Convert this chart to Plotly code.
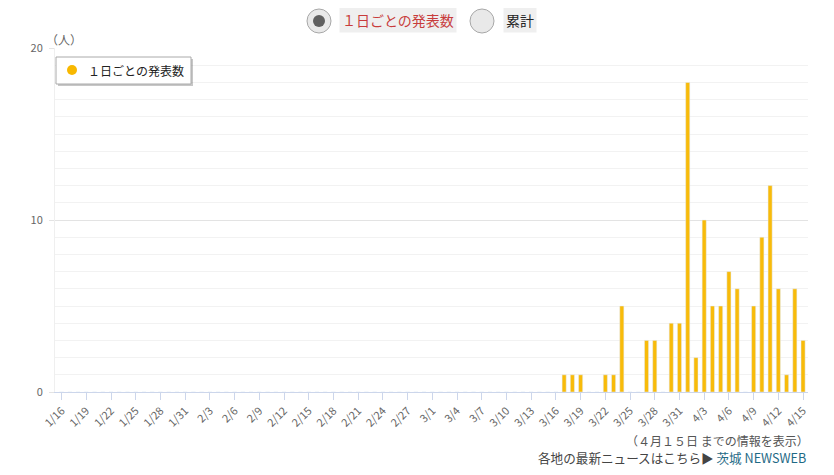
import datetime as dt
import plotly.graph_objects as go

# ---- data ----
start = dt.date(2020, 1, 16)
n_days = 91
dates = [start + dt.timedelta(days=i) for i in range(n_days)]
categories = [f"{d.month}/{d.day}" for d in dates]

case_dates = ["3/17", "3/18", "3/19", "3/22", "3/23", "3/24", "3/27", "3/28",
              "3/30", "3/31", "4/1", "4/2", "4/3", "4/4", "4/5", "4/6", "4/7",
              "4/9", "4/10", "4/11", "4/12", "4/13", "4/14", "4/15"]
case_values = [1, 1, 1, 1, 1, 5, 3, 3,
               4, 4, 18, 2, 10, 5, 5, 7, 6,
               5, 9, 12, 6, 1, 6, 3]
lookup = dict(zip(case_dates, case_values))
daily = [lookup.get(c, 0) for c in categories]
tick_labels = categories[::3]

series_name = "１日ごとの発表数"
BAR = "#f8bb0a"
FONT = "Noto Sans CJK JP"

OFF = 8  # page body margin
W, H = 826, 467
L, R, T, B = 47, 26, 40, 83
PW, PH = W - L - R, H - T - B


def px(x):
    return (x - OFF - L) / PW


def py(y):
    return (H - B - (y - OFF)) / PH


fig = go.Figure()
fig.add_trace(go.Bar(x=categories, y=daily, marker_color=BAR, width=0.5,
                     name=series_name, showlegend=False))

shapes = []
annotations = []

# legend box (manual, with shadow)
shapes.append(dict(type="rect", xref="paper", yref="paper",
                   x0=px(58), x1=px(193), y0=py(59), y1=py(86),
                   fillcolor="rgba(0,0,0,0.22)", line=dict(width=0), layer="above"))
shapes.append(dict(type="rect", xref="paper", yref="paper",
                   x0=px(56), x1=px(191), y0=py(57), y1=py(84),
                   fillcolor="white", line=dict(color="#aaa", width=1), layer="above"))
shapes.append(dict(type="circle", xref="paper", yref="paper",
                   xsizemode="pixel", ysizemode="pixel",
                   xanchor=px(72), yanchor=py(70),
                   x0=-5, x1=5, y0=-5, y1=5,
                   fillcolor="#f8b800", line=dict(width=0), layer="above"))
annotations.append(dict(text=series_name, xref="paper", yref="paper",
                        x=px(86), y=py(70), xanchor="left", yanchor="middle",
                        showarrow=False, font=dict(size=12, color="#222", family=FONT)))

# radio buttons at top
for cx in (319, 482):
    shapes.append(dict(type="circle", xref="paper", yref="paper",
                       xsizemode="pixel", ysizemode="pixel",
                       xanchor=px(cx), yanchor=py(21),
                       x0=-12, x1=12, y0=-12, y1=12,
                       fillcolor="#e9e9e9", line=dict(color="#a8a8a8", width=1)))
shapes.append(dict(type="circle", xref="paper", yref="paper",
                   xsizemode="pixel", ysizemode="pixel",
                   xanchor=px(319), yanchor=py(21),
                   x0=-6, x1=6, y0=-6, y1=6,
                   fillcolor="#606060", line=dict(width=0)))
annotations.append(dict(text="１日ごとの発表数", xref="paper", yref="paper",
                        x=px(339), y=py(20), xanchor="left", yanchor="middle",
                        showarrow=False, bgcolor="#efefef", borderpad=2,
                        font=dict(size=14, color="#c83c3c", family=FONT)))
annotations.append(dict(text="累計", xref="paper", yref="paper",
                        x=px(503), y=py(20), xanchor="left", yanchor="middle",
                        showarrow=False, bgcolor="#efefef", borderpad=2,
                        font=dict(size=14, color="#222", family=FONT)))

# unit label
annotations.append(dict(text="（人）", xref="paper", yref="paper",
                        x=px(44), y=py(40), xanchor="left", yanchor="middle",
                        showarrow=False, font=dict(size=12, color="#666", family=FONT)))

# bottom notes
annotations.append(dict(text="（４月１５日 までの情報を表示）", xref="paper", yref="paper",
                        x=px(811), y=py(440), xanchor="right", yanchor="middle",
                        showarrow=False, font=dict(size=12, color="#555", family=FONT)))
annotations.append(dict(text="各地の最新ニュースはこちら▶ <span style='color:#1f6a86'>茨城 NEWSWEB</span>",
                        xref="paper", yref="paper",
                        x=px(808), y=py(458), xanchor="right", yanchor="middle",
                        showarrow=False, font=dict(size=12.6, color="#444", family=FONT)))

fig.update_layout(
    width=W, height=H,
    margin=dict(l=L, r=R, t=T, b=B),
    paper_bgcolor="white", plot_bgcolor="white",
    font=dict(family=FONT, size=11, color="#666"),
    bargap=0.5,
    shapes=shapes, annotations=annotations,
    xaxis=dict(type="category", categoryorder="array", categoryarray=categories,
               range=[-0.8, 90.6], tickmode="array", tickvals=tick_labels,
               ticktext=tick_labels, tickangle=-45, ticks="outside", ticklen=7,
               tickcolor="#ccd6eb", showline=True, linecolor="#ccd6eb",
               showgrid=False, tickfont=dict(size=11, color="#666"), fixedrange=True),
    yaxis=dict(range=[0, 20], dtick=10, tick0=0, showgrid=True, gridcolor="#e3e3e3",
               minor=dict(dtick=1, showgrid=True, gridcolor="#f2f2f2"),
               ticks="outside", ticklen=5, tickcolor="#e3e3e3",
               ticklabelstandoff=4,
               showline=True, linecolor="#efefef", zeroline=False,
               tickfont=dict(size=11, color="#666"), fixedrange=True),
)

fig.write_html("out.html")
